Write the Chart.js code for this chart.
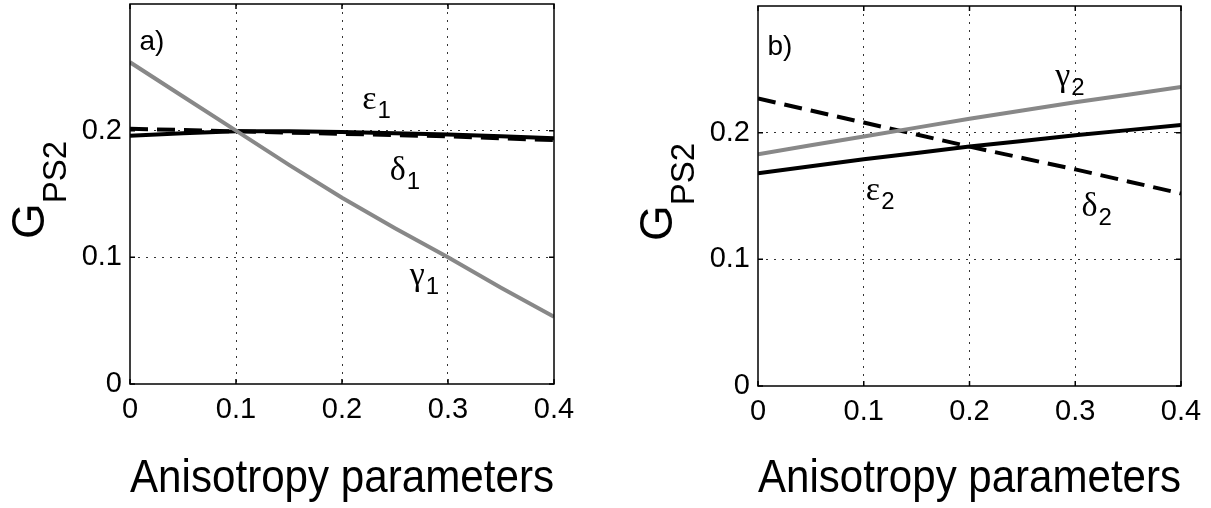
<!DOCTYPE html>
<html>
<head>
<meta charset="utf-8">
<script src="https://cdn.jsdelivr.net/npm/chart.js@4/dist/chart.umd.min.js"></script>
<style>
  html, body { margin: 0; padding: 0; background: #fff; }
  #wrap { position: relative; width: 1211px; height: 508px; overflow: hidden; }
  canvas { position: absolute; top: 0; }
</style>
</head>
<body>
<div id="wrap">
  <canvas id="chartA" width="605" height="508" style="left:0"></canvas>
  <canvas id="chartB" width="606" height="508" style="left:605px"></canvas>
</div>
<script>
const xValues = [0, 0.05, 0.1, 0.15, 0.2, 0.25, 0.3, 0.35, 0.4];
const xTicks = [0, 0.1, 0.2, 0.3, 0.4];
const yTicks = [0, 0.1, 0.2];

// panel a)
const epsilon1 = [0.196, 0.198, 0.1995, 0.1995, 0.199, 0.198, 0.197, 0.1955, 0.194];
const delta1 = [0.2015, 0.2005, 0.1995, 0.1985, 0.1975, 0.1965, 0.1955, 0.194, 0.1925];
const gamma1 = [0.254, 0.227, 0.200, 0.173, 0.147, 0.123, 0.100, 0.076, 0.053];

// panel b)
const epsilon2 = [0.168, 0.1735, 0.179, 0.184, 0.189, 0.1935, 0.198, 0.202, 0.206];
const delta2 = [0.227, 0.2175, 0.208, 0.1985, 0.189, 0.180, 0.171, 0.1615, 0.152];
const gamma2 = [0.183, 0.190, 0.197, 0.204, 0.211, 0.2175, 0.224, 0.230, 0.236];

const SANS = '"Liberation Sans", Arial, Helvetica, sans-serif';
const SERIF = '"Liberation Serif", "DejaVu Serif", serif';

function pts(ys) {
  return ys.map((y, i) => ({ x: xValues[i], y }));
}

function solidBlack(ys) {
  return { data: pts(ys), borderColor: "#000", borderWidth: 4, pointRadius: 0, tension: 0, order: 2 };
}
function dashedBlack(ys) {
  return { data: pts(ys), borderColor: "#000", borderWidth: 4, borderDash: [18, 9], pointRadius: 0, tension: 0, order: 1 };
}
function grayLine(ys) {
  return { data: pts(ys), borderColor: "#888", borderWidth: 4, pointRadius: 0, tension: 0, order: 0 };
}

// box, inward tick marks, curve labels and the y title with subscript
const framePlugin = {
  id: "frame",
  afterDatasetsDraw(chart, args, opts) {
    const { ctx, chartArea: a } = chart;
    const sx = chart.scales.x, sy = chart.scales.y;
    ctx.save();
    ctx.strokeStyle = "#000";
    ctx.lineWidth = 1.5;
    ctx.strokeRect(a.left, a.top, a.right - a.left, a.bottom - a.top);

    ctx.beginPath();
    xTicks.forEach((v) => {
      const px = sx.getPixelForValue(v);
      ctx.moveTo(px, a.bottom); ctx.lineTo(px, a.bottom - 5);
      ctx.moveTo(px, a.top); ctx.lineTo(px, a.top + 5);
    });
    yTicks.forEach((v) => {
      const py = sy.getPixelForValue(v);
      ctx.moveTo(a.left, py); ctx.lineTo(a.left + 5, py);
      ctx.moveTo(a.right, py); ctx.lineTo(a.right - 5, py);
    });
    ctx.stroke();

    ctx.fillStyle = "#000";
    ctx.textAlign = "left";
    ctx.textBaseline = "alphabetic";

    // panel letter
    ctx.font = "28px " + SANS;
    ctx.fillText(opts.panel.text, sx.getPixelForValue(opts.panel.x), sy.getPixelForValue(opts.panel.y));

    // curve labels
    opts.labels.forEach((l) => {
      const px = sx.getPixelForValue(l.x);
      const py = sy.getPixelForValue(l.y);
      ctx.font = "34px " + SERIF;
      ctx.fillText(l.text, px, py);
      const w = ctx.measureText(l.text).width;
      ctx.font = "24px " + SANS;
      ctx.fillText(l.sub, px + w + 1, py + 9);
    });

    // y axis title G_PS2
    ctx.translate(a.left - 86, (a.top + a.bottom) / 2 - 4);
    ctx.rotate(-Math.PI / 2);
    ctx.font = "46px " + SANS;
    const wG = ctx.measureText("G").width;
    ctx.font = "33px " + SANS;
    const wS = ctx.measureText("PS2").width;
    const x0 = -(wG + wS) / 2;
    ctx.font = "46px " + SANS;
    ctx.fillText("G", x0, 0);
    ctx.font = "33px " + SANS;
    ctx.fillText("PS2", x0 + wG, 22);
    ctx.restore();
  },
};

function makePanel(canvasId, datasets, area, frameOpts) {
  const canvas = document.getElementById(canvasId);
  const W = canvas.width, H = canvas.height;
  const gridColor = (edgeValues) => (c) =>
    c.tick && edgeValues.some((e) => Math.abs(e - c.tick.value) < 1e-9) ? "rgba(0,0,0,0)" : "#333";

  return new Chart(canvas.getContext("2d"), {
    type: "line",
    data: { datasets },
    options: {
      responsive: false,
      animation: false,
      layout: { padding: { left: 0, right: W - area.right, top: area.top, bottom: 0 } },
      plugins: { legend: { display: false }, tooltip: { enabled: false }, frame: frameOpts },
      scales: {
        x: {
          type: "linear",
          min: 0,
          max: 0.4,
          afterBuildTicks: (s) => { s.ticks = xTicks.map((v) => ({ value: v })); },
          afterFit: (s) => {
            s.height = H - area.bottom;
            s.paddingLeft = 0;
            s.paddingRight = 0;
          },
          ticks: {
            color: "#000",
            font: { family: SANS, size: 29 },
            padding: 9,
            maxRotation: 0,
            callback: (v) => String(v),
          },
          grid: { color: gridColor([0, 0.4]), lineWidth: 1, drawTicks: false },
          border: { display: false, dash: [2, 6] },
          title: {
            display: true,
            text: "Anisotropy parameters",
            color: "#000",
            font: { family: SANS, size: 46 },
            padding: { top: 0, bottom: 1 },
          },
        },
        y: {
          type: "linear",
          min: 0,
          max: 0.3,
          afterBuildTicks: (s) => { s.ticks = yTicks.map((v) => ({ value: v })); },
          afterFit: (s) => {
            s.width = area.left;
            s.paddingTop = 0;
            s.paddingBottom = 0;
          },
          ticks: {
            color: "#000",
            font: { family: SANS, size: 29 },
            padding: 8,
            callback: (v) => String(v),
          },
          grid: { color: gridColor([0]), lineWidth: 1, drawTicks: false },
          border: { display: false, dash: [2, 6] },
        },
      },
    },
    plugins: [framePlugin],
  });
}

makePanel(
  "chartA",
  [grayLine(gamma1), dashedBlack(delta1), solidBlack(epsilon1)],
  { left: 130, right: 554, top: 4, bottom: 384 },
  {
    panel: { text: "a)", x: 0.009, y: 0.264 },
    labels: [
      { text: "ε", sub: "1", x: 0.219, y: 0.217 },
      { text: "δ", sub: "1", x: 0.245, y: 0.161 },
      { text: "γ", sub: "1", x: 0.264, y: 0.078 },
    ],
  }
);

makePanel(
  "chartB",
  [grayLine(gamma2), dashedBlack(delta2), solidBlack(epsilon2)],
  { left: 153, right: 576, top: 6, bottom: 386 },
  {
    panel: { text: "b)", x: 0.009, y: 0.261 },
    labels: [
      { text: "γ", sub: "2", x: 0.281, y: 0.237 },
      { text: "ε", sub: "2", x: 0.102, y: 0.1465 },
      { text: "δ", sub: "2", x: 0.306, y: 0.1346 },
    ],
  }
);
</script>
</body>
</html>
